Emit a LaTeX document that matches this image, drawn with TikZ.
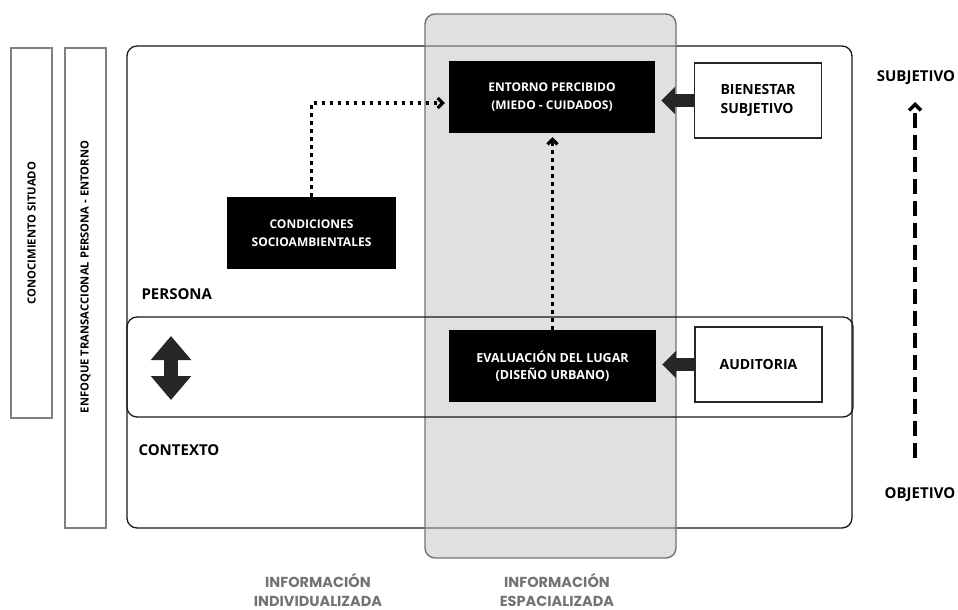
\documentclass[tikz,border=0pt]{standalone}
\usepackage{fontspec}
\setmainfont{Open Sans}
\newfontfamily\poppins{Poppins}
\usetikzlibrary{arrows.meta}

\begin{document}
\begin{tikzpicture}[x=1pt, y=-1pt,
    frame/.style={draw=black!90, line width=1.3pt, rounded corners=10pt},
    column/.style={draw=black!55, line width=1.4pt, rounded corners=10pt, fill=black!24, fill opacity=0.5},
    sidebox/.style={draw=black!50, line width=1.3pt},
    sidetext/.style={rotate=90, font=\bfseries\fontsize{11.2}{12}\selectfont},
    label/.style={font=\bfseries\fontsize{15}{17}\selectfont},
    blackbox/.style={fill=black, text=white, align=center, inner sep=0pt,
      minimum height=72pt, font=\bfseries\fontsize{12}{17.5}\selectfont},
    whitebox/.style={draw=black!85, line width=1.3pt, fill=white, align=left, inner sep=0pt,
      minimum width=127pt, minimum height=75pt, font=\bfseries\fontsize{14}{18.5}\selectfont},
    dotarrow/.style={line width=3.2pt, dash pattern=on 3.5pt off 4.5pt,
      -{Straight Barb[length=5pt,width=10pt]}},
    fatarrow/.style={draw=black!85, line width=13pt, shorten >=6pt,
      -{Triangle[length=14pt,width=27pt]}},
    infolabel/.style={align=center, text=black!55, inner sep=0pt,
      font=\poppins\bfseries\fontsize{14.5}{19}\selectfont}]

    \useasboundingbox (0,0) rectangle (958,610);

    % side frames
    \draw[sidebox] (11,48) rectangle (52,418);
    \draw[sidebox] (65,48) rectangle (106,528);
    \node[sidetext] (situado) at (31.5,233) {CONOCIMIENTO SITUADO};
    \node[sidetext] (enfoque) at (85.5,277) {ENFOQUE TRANSACCIONAL PERSONA - ENTORNO};

    % persona / contexto and the spatial column
    \draw[frame] (127,46) rectangle (852,528);
    \draw[column] (425,14) rectangle (676,558);
    \draw[frame] (127,317) rectangle (853,417);

    \node[label, anchor=west] (persona) at (138,294) {PERSONA};
    \node[label, anchor=west] (contexto) at (135,450) {CONTEXTO};

    % boxes
    \node[blackbox, minimum width=206pt] (entorno) at (552,97) {ENTORNO PERCIBIDO\\(MIEDO - CUIDADOS)};
    \node[blackbox, minimum width=207pt, font=\bfseries\fontsize{12.5}{17.5}\selectfont] (evaluacion) at (552.5,366) {EVALUACIÓN DEL LUGAR\\(DISEÑO URBANO)};
    \node[blackbox, minimum width=169pt] (condiciones) at (311.5,233) {CONDICIONES\\SOCIOAMBIENTALES};
    \node[whitebox] (bienestar) at (758,100.5) {BIENESTAR\\SUBJETIVO};
    \node[whitebox] (auditoria) at (758.5,364.5) {AUDITORIA};

    % connectors
    \draw[dotarrow, shorten >=4pt] (condiciones.north) |- ([yshift=-6pt]entorno.west);
    \draw[dotarrow, shorten >=4pt] (evaluacion.north) -- (evaluacion.north |- entorno.south);
    \draw[fatarrow] (bienestar.west) -- (bienestar.west -| entorno.east);
    \draw[fatarrow] (auditoria.west) -- (auditoria.west -| evaluacion.east);

    % persona <-> contexto
    \coordinate (uptip) at (171,336);
    \coordinate (downtip) at (171,400);
    \draw[draw=black!85, line width=14pt,
      {Triangle[length=24pt,width=39pt]}-{Triangle[length=24pt,width=39pt]}] (uptip) -- (downtip);

    % subjetivo / objetivo axis
    \node[label] (subjetivo) at (916,78) {SUBJETIVO};
    \node[label] (objetivo) at (920,495) {OBJETIVO};
    \coordinate (axisbot) at (915,458);
    \coordinate (axistop) at (915,102);
    \draw[line width=3.5pt, dash pattern=on 15pt off 7pt,
      -{Straight Barb[length=6pt,width=12pt]}] (axisbot) -- (axistop);

    % information labels
    \node[infolabel] (individual) at (318,590) {INFORMACIÓN\\INDIVIDUALIZADA};
    \node[infolabel] (espacial) at (557,590) {INFORMACIÓN\\ESPACIALIZADA};

\end{tikzpicture}
\end{document}
